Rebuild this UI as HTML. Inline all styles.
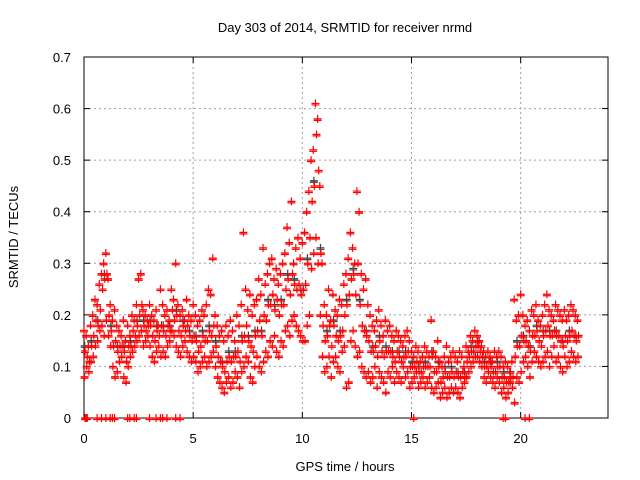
<!DOCTYPE html>
<html><head><meta charset="utf-8"><style>
body{margin:0;background:#fff}
svg{display:block;font-family:"Liberation Sans",sans-serif}
</style></head><body>
<svg id="c" width="640" height="480" viewBox="0 0 640 480">
<text x="345" y="32" font-size="13" text-anchor="middle">Day 303 of 2014, SRMTID for receiver nrmd</text>
<text x="345" y="471" font-size="13" text-anchor="middle">GPS time / hours</text>
<text transform="translate(18,237) rotate(-90)" font-size="13" text-anchor="middle">SRMTID / TECUs</text>
<g id="grid"></g>
<g id="axes"></g>
<g id="pts"></g>
</svg>
<script>
const xTicks=[0,5,10,15,20];
const yTicks=[0,0.1,0.2,0.3,0.4,0.5,0.6,0.7];
const yTickLabels=["0","0.1","0.2","0.3","0.4","0.5","0.6","0.7"];
const seriesHi=[.17,.16,.14,.18,.20,.23,.22,.26,.28,.30,
.32,.27,.22,.19,.21,.18,.17,.16,.19,.15,
.18,.16,.20,.19,.22,.27,.28,.21,.20,.19,
.22,.20,.19,.21,.18,.25,.22,.20,.21,.19,
.25,.23,.30,.22,.20,.21,.19,.23,.20,.19,
.22,.20,.18,.19,.21,.20,.22,.25,.24,.31,
.20,.18,.16,.17,.15,.18,.16,.19,.17,.15,
.20,.18,.22,.36,.25,.21,.24,.20,.22,.23,
.27,.24,.33,.26,.28,.30,.31,.27,.29,.26,
.28,.30,.32,.37,.34,.42,.30,.33,.35,.31,
.34,.36,.40,.44,.50,.52,.61,.58,.45,.30,
.22,.20,.25,.19,.24,.21,.20,.23,.22,.26,
.28,.31,.36,.33,.30,.44,.40,.28,.25,.27,
.22,.20,.18,.17,.19,.21,.18,.16,.19,.17,
.18,.16,.15,.17,.16,.15,.14,.16,.17,.15,
.13,.12,.14,.13,.11,.12,.14,.13,.12,.19,
.13,.12,.15,.11,.10,.12,.14,.11,.12,.13,
.12,.11,.13,.12,.10,.14,.13,.16,.15,.17,
.16,.15,.14,.13,.12,.13,.12,.11,.13,.12,
.13,.12,.10,.11,.10,.09,.11,.23,.19,.20,
.24,.20,.18,.19,.17,.21,.20,.22,.19,.18,
.20,.22,.24,.21,.20,.19,.22,.21,.20,.19,
.21,.19,.20,.22,.21,.20,.19];
const seriesMid=[.13,.12,.11,.14,.16,.19,.18,.21,.25,.27,
.28,.20,.17,.14,.15,.13,.14,.14,.13,.11,
.14,.14,.17,.16,.18,.20,.22,.18,.17,.18,
.18,.16,.15,.17,.16,.18,.17,.16,.18,.17,
.21,.19,.20,.17,.16,.18,.17,.18,.16,.15,
.16,.15,.13,.14,.16,.15,.15,.17,.16,.18,
.14,.12,.11,.10,.09,.11,.12,.11,.12,.12,
.13,.11,.15,.16,.18,.15,.14,.13,.16,.17,
.19,.16,.20,.19,.22,.22,.24,.21,.23,.20,
.22,.22,.25,.27,.24,.28,.26,.25,.26,.24,
.25,.26,.30,.35,.42,.45,.55,.48,.32,.18,
.15,.16,.18,.14,.18,.16,.15,.16,.17,.20,
.22,.24,.27,.28,.24,.30,.22,.18,.17,.16,
.15,.13,.13,.14,.12,.15,.13,.12,.13,.13,
.13,.12,.11,.13,.12,.11,.12,.12,.13,.10,
.10,.10,.11,.09,.09,.10,.10,.10,.10,.12,
.09,.09,.10,.07,.08,.09,.08,.08,.09,.08,
.09,.08,.08,.09,.08,.11,.12,.13,.13,.14,
.14,.13,.12,.10,.10,.11,.10,.09,.09,.10,
.10,.08,.08,.07,.07,.08,.08,.12,.14,.14,
.16,.15,.15,.14,.13,.16,.16,.17,.15,.14,
.16,.17,.18,.16,.16,.17,.16,.16,.15,.14,
.16,.15,.16,.17,.16,.15,.16];
const seriesLo=[.08,.10,.09,.11,.12,.14,.15,.17,.18,.16,
.19,.16,.14,.10,.08,.09,.11,.12,.08,.07,
.10,.12,.13,.14,.15,.16,.17,.14,.15,.16,
.14,.12,.11,.13,.14,.12,.13,.12,.14,.15,
.17,.16,.14,.13,.12,.14,.15,.13,.12,.11,
.12,.11,.09,.10,.11,.12,.10,.11,.12,.13,
.10,.08,.07,.06,.05,.07,.08,.06,.07,.09,
.08,.06,.09,.10,.12,.11,.08,.07,.10,.12,
.10,.09,.11,.13,.12,.15,.14,.16,.13,.12,
.15,.14,.17,.18,.16,.19,.20,.18,.17,.16,
.15,.15,.18,.20,.29,.32,.35,.30,.20,.12,
.09,.10,.12,.08,.11,.12,.10,.09,.13,.14,
.06,.07,.15,.17,.14,.12,.13,.10,.09,.08,
.09,.07,.08,.10,.06,.09,.08,.07,.05,.09,
.08,.10,.07,.09,.08,.07,.10,.08,.09,.06,
.07,.08,.09,.06,.07,.08,.06,.07,.08,.06,
.05,.06,.07,.04,.05,.06,.04,.05,.06,.05,
.06,.05,.04,.06,.07,.08,.09,.10,.11,.12,
.12,.11,.10,.08,.07,.09,.08,.07,.06,.08,
.07,.05,.06,.04,.05,.07,.06,.03,.08,.07,
.09,.11,.12,.10,.08,.11,.13,.12,.11,.10,
.11,.12,.13,.10,.12,.14,.11,.12,.10,.09,
.12,.10,.11,.13,.12,.11,.12];
const zeroTimes=[0.05,0.1,0.15,0.6,0.8,1.0,1.2,1.3,1.4,2.0,2.1,2.3,2.4,3.0,3.3,3.5,3.6,3.8,4.2,4.4,15.1,19.2,19.3,20.2,20.4];

const L=84,R=608,T=57,B=418,XMAX=24,YMAX=0.7;
const sx=v=>L+v/XMAX*(R-L);
const sy=v=>B-v/YMAX*(B-T);
const NS="http://www.w3.org/2000/svg";
function mk(tag,attrs,parent){const e=document.createElementNS(NS,tag);for(const k in attrs)e.setAttribute(k,attrs[k]);parent.appendChild(e);return e;}
const grid=document.getElementById('grid'),axes=document.getElementById('axes'),pts=document.getElementById('pts');
xTicks.forEach((t,i)=>{
  const x=sx(t);
  if(t>0){const g=mk('line',{x1:x,x2:x,y1:T,y2:B,stroke:'#a0a0a0','stroke-dasharray':'2,3'},grid);
  
  }
  mk('line',{x1:x,x2:x,y1:B,y2:B-6,stroke:'#000'},axes);
  mk('line',{x1:x,x2:x,y1:T,y2:T+6,stroke:'#000'},axes);
  const tx=mk('text',{x:x,y:443,'font-size':13,'text-anchor':'middle'},axes);
  tx.textContent=String(t);
  
  
});
yTicks.forEach((t,i)=>{
  const y=sy(t);
  if(t>0&&t<YMAX){const g=mk('line',{x1:L,x2:R,y1:y,y2:y,stroke:'#a0a0a0','stroke-dasharray':'2,3'},grid);
  
  }
  mk('line',{x1:L,x2:L+6,y1:y,y2:y,stroke:'#000'},axes);
  mk('line',{x1:R,x2:R-6,y1:y,y2:y,stroke:'#000'},axes);
  const tx=mk('text',{x:71,y:y+5,'font-size':13,'text-anchor':'end'},axes);
  tx.textContent=yTickLabels[i];
  
  
});
const fr=mk('rect',{x:L,y:T,width:R-L,height:B-T,fill:'none',stroke:'#000'},axes);


function plus(x,y,color,name){
  const p=mk('path',{d:`M${x-4},${y}h8M${x},${y-4}v8M${x-4},${y+1.5}h8`,stroke:color,'stroke-width':1.2,fill:'none'},pts);
  
  
}
seriesMid.forEach((v,i)=>{ if(i%3===0) plus(sx(i*0.1+0.03),sy(v+0.01),'#404040','point-black'); });
[[seriesHi,0],[seriesMid,0.05],[seriesLo,0.025]].forEach(([arr,off])=>{
  arr.forEach((v,i)=>plus(sx(i*0.1+off),sy(v),'#ff0000','point-red'));
});
zeroTimes.forEach(t=>plus(sx(t),sy(0),'#ff0000','point-zero'));
</script>
</body></html>
